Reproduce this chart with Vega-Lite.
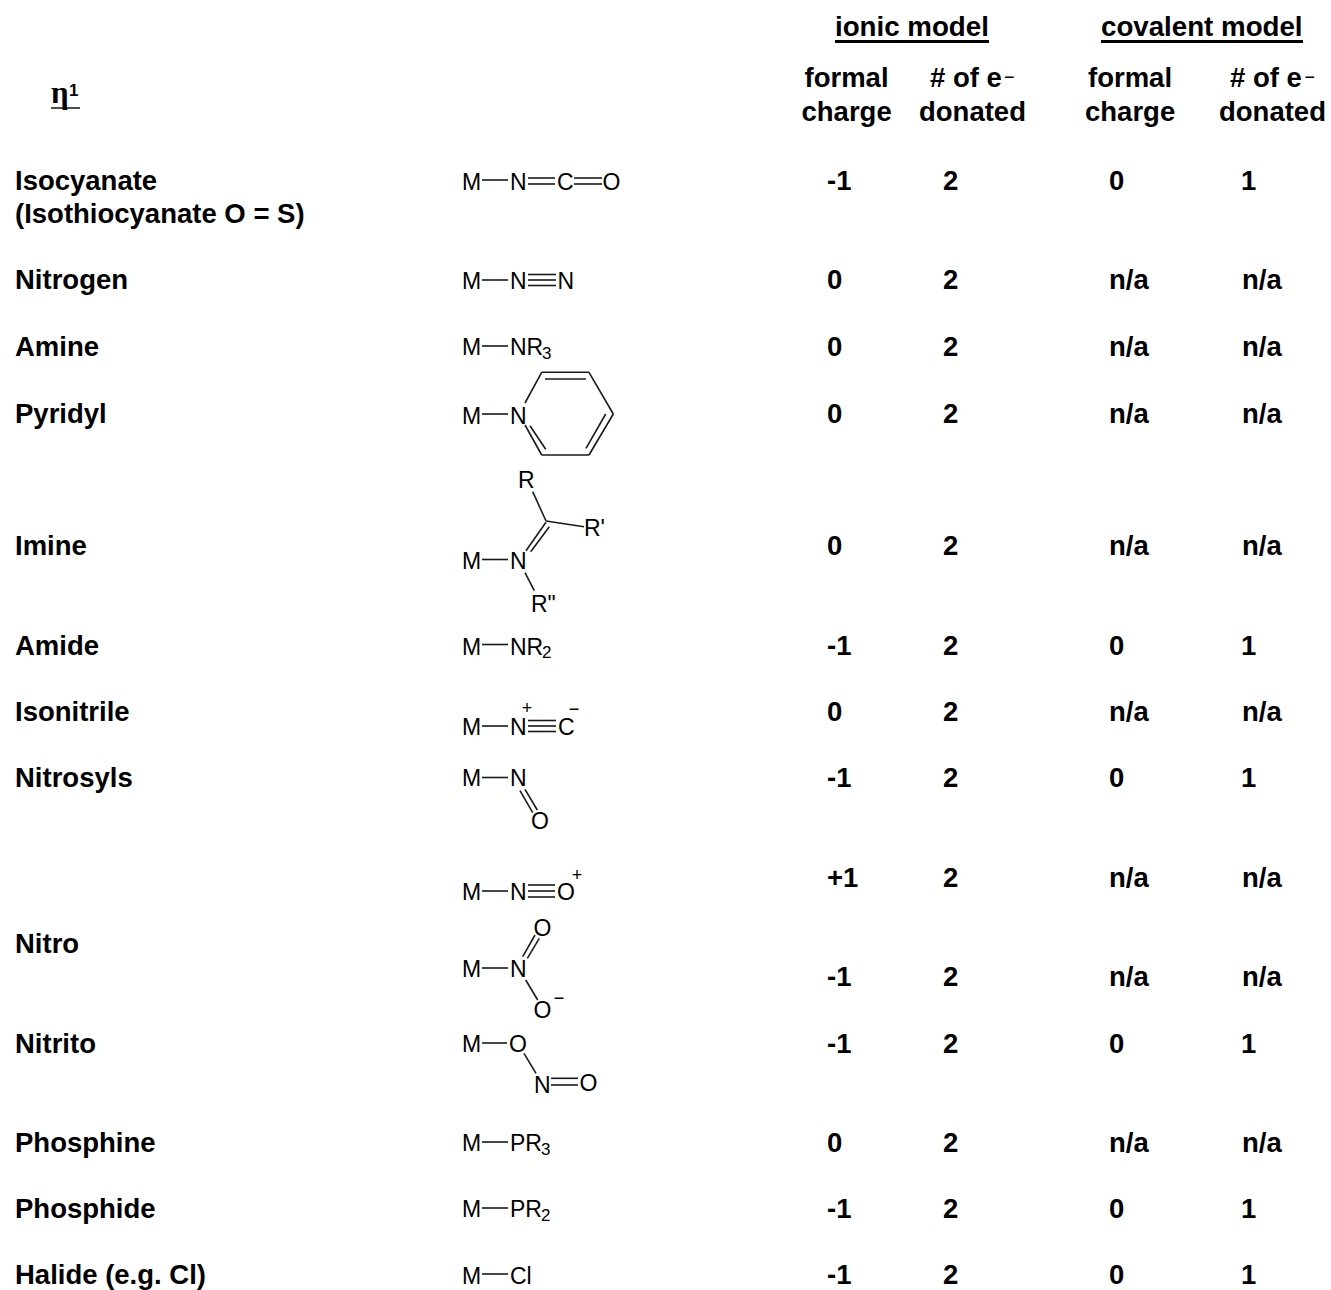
{"$schema":"https://vega.github.io/schema/vega-lite/v6.json","width":1331,"height":1290,"padding":0,"autosize":"none","background":"white","config":{"view":{"stroke":null}},
"datasets":{
"title":[{"x":51,"y":103,"t":"η"}],
"titleSup":[{"x":69,"y":96,"t":"1"}],
"head1":[{"x":835,"y":36,"t":"ionic model"},{"x":1101,"y":36,"t":"covalent model"}],
"cells":[
{"x":15,"y":190,"t":"Isocyanate"},{"x":15,"y":223,"t":"(Isothiocyanate O = S)"},
{"x":15,"y":289,"t":"Nitrogen"},{"x":15,"y":356,"t":"Amine"},{"x":15,"y":423,"t":"Pyridyl"},{"x":15,"y":555,"t":"Imine"},{"x":15,"y":655,"t":"Amide"},{"x":15,"y":721,"t":"Isonitrile"},{"x":15,"y":787,"t":"Nitrosyls"},{"x":15,"y":953,"t":"Nitro"},{"x":15,"y":1053,"t":"Nitrito"},{"x":15,"y":1152,"t":"Phosphine"},{"x":15,"y":1218,"t":"Phosphide"},{"x":15,"y":1284,"t":"Halide (e.g. Cl)"},
{"x":804.5,"y":87,"t":"formal"},{"x":801.5,"y":121,"t":"charge"},{"x":930,"y":87,"t":"# of e"},{"x":919,"y":121,"t":"donated"},{"x":1088,"y":87,"t":"formal"},{"x":1085,"y":121,"t":"charge"},{"x":1230,"y":87,"t":"# of e"},{"x":1219,"y":121,"t":"donated"},
{"x":827,"y":190,"t":"-1"},{"x":943,"y":190,"t":"2"},{"x":1109,"y":190,"t":"0"},{"x":1241,"y":190,"t":"1"},
{"x":827,"y":289,"t":"0"},{"x":943,"y":289,"t":"2"},{"x":1109,"y":289,"t":"n/a"},{"x":1242,"y":289,"t":"n/a"},
{"x":827,"y":356,"t":"0"},{"x":943,"y":356,"t":"2"},{"x":1109,"y":356,"t":"n/a"},{"x":1242,"y":356,"t":"n/a"},
{"x":827,"y":423,"t":"0"},{"x":943,"y":423,"t":"2"},{"x":1109,"y":423,"t":"n/a"},{"x":1242,"y":423,"t":"n/a"},
{"x":827,"y":555,"t":"0"},{"x":943,"y":555,"t":"2"},{"x":1109,"y":555,"t":"n/a"},{"x":1242,"y":555,"t":"n/a"},
{"x":827,"y":655,"t":"-1"},{"x":943,"y":655,"t":"2"},{"x":1109,"y":655,"t":"0"},{"x":1241,"y":655,"t":"1"},
{"x":827,"y":721,"t":"0"},{"x":943,"y":721,"t":"2"},{"x":1109,"y":721,"t":"n/a"},{"x":1242,"y":721,"t":"n/a"},
{"x":827,"y":787,"t":"-1"},{"x":943,"y":787,"t":"2"},{"x":1109,"y":787,"t":"0"},{"x":1241,"y":787,"t":"1"},
{"x":827,"y":887,"t":"+1"},{"x":943,"y":887,"t":"2"},{"x":1109,"y":887,"t":"n/a"},{"x":1242,"y":887,"t":"n/a"},
{"x":827,"y":986,"t":"-1"},{"x":943,"y":986,"t":"2"},{"x":1109,"y":986,"t":"n/a"},{"x":1242,"y":986,"t":"n/a"},
{"x":827,"y":1053,"t":"-1"},{"x":943,"y":1053,"t":"2"},{"x":1109,"y":1053,"t":"0"},{"x":1241,"y":1053,"t":"1"},
{"x":827,"y":1152,"t":"0"},{"x":943,"y":1152,"t":"2"},{"x":1109,"y":1152,"t":"n/a"},{"x":1242,"y":1152,"t":"n/a"},
{"x":827,"y":1218,"t":"-1"},{"x":943,"y":1218,"t":"2"},{"x":1109,"y":1218,"t":"0"},{"x":1241,"y":1218,"t":"1"},
{"x":827,"y":1284,"t":"-1"},{"x":943,"y":1284,"t":"2"},{"x":1109,"y":1284,"t":"0"},{"x":1241,"y":1284,"t":"1"}
],
"eMinus":[{"x":1004,"y":83,"t":"−"},{"x":1304.5,"y":83,"t":"−"}],
"atoms":[
{"x":462,"y":190,"t":"M"},{"x":510,"y":190,"t":"N"},{"x":557,"y":190,"t":"C"},{"x":602.5,"y":190,"t":"O"},
{"x":462,"y":289,"t":"M"},{"x":510,"y":289,"t":"N"},{"x":557.5,"y":289,"t":"N"},
{"x":462,"y":355,"t":"M"},{"x":510,"y":355,"t":"NR"},
{"x":462,"y":424,"t":"M"},{"x":510,"y":424,"t":"N"},
{"x":518,"y":488,"t":"R"},{"x":584,"y":536,"t":"R'"},{"x":462,"y":569,"t":"M"},{"x":510,"y":569,"t":"N"},{"x":531,"y":612,"t":"R\""},
{"x":462,"y":655,"t":"M"},{"x":510,"y":655,"t":"NR"},
{"x":462,"y":735,"t":"M"},{"x":510,"y":735,"t":"N"},{"x":558,"y":735,"t":"C"},
{"x":462,"y":786,"t":"M"},{"x":510,"y":786,"t":"N"},{"x":531,"y":829,"t":"O"},
{"x":462,"y":900,"t":"M"},{"x":510,"y":900,"t":"N"},{"x":557,"y":900,"t":"O"},
{"x":462,"y":977,"t":"M"},{"x":510,"y":977,"t":"N"},{"x":533.5,"y":936,"t":"O"},{"x":533.5,"y":1018,"t":"O"},
{"x":462,"y":1052,"t":"M"},{"x":509,"y":1052,"t":"O"},{"x":534,"y":1093,"t":"N"},{"x":579.5,"y":1091,"t":"O"},
{"x":462,"y":1151,"t":"M"},{"x":510,"y":1151,"t":"PR"},
{"x":462,"y":1217,"t":"M"},{"x":510,"y":1217,"t":"PR"},
{"x":462,"y":1284,"t":"M"},{"x":510,"y":1284,"t":"Cl"}
],
"subs":[{"x":542,"y":359,"t":"3"},{"x":542,"y":658,"t":"2"},{"x":541,"y":1155,"t":"3"},{"x":541,"y":1221,"t":"2"}],
"charges":[{"x":527,"y":714,"t":"+"},{"x":574,"y":715,"t":"−"},{"x":577,"y":881,"t":"+"},{"x":559,"y":1004,"t":"−"}],
"bonds":[
{"x":482,"y":180,"x2":508,"y2":180},{"x":528,"y":178,"x2":555,"y2":178},{"x":528,"y":184,"x2":555,"y2":184},{"x":574,"y":178,"x2":602,"y2":178},{"x":574,"y":184,"x2":602,"y2":184},
{"x":482,"y":280,"x2":508,"y2":280},{"x":528,"y":274.5,"x2":556,"y2":274.5},{"x":528,"y":280,"x2":556,"y2":280},{"x":528,"y":285.5,"x2":556,"y2":285.5},
{"x":482,"y":346,"x2":508,"y2":346},
{"x":482,"y":414,"x2":508,"y2":414},
{"x":525,"y":403,"x2":541.7,"y2":372.3},{"x":541.7,"y":372.3,"x2":589,"y2":372.3},{"x":589,"y":372.3,"x2":613.3,"y2":414},{"x":613.3,"y":414,"x2":589,"y2":455},{"x":589,"y":455,"x2":541.7,"y2":455},{"x":541.7,"y":455,"x2":525,"y2":425},{"x":545,"y":379,"x2":586,"y2":379},{"x":605.7,"y":414,"x2":586,"y2":448.3},{"x":530,"y":425.7,"x2":545.7,"y2":449.3},
{"x":532.7,"y":491.7,"x2":546,"y2":521},{"x":546,"y":521,"x2":584,"y2":526.7},{"x":526,"y":550.7,"x2":546,"y2":522.3},{"x":530.7,"y":551.7,"x2":549.3,"y2":526.7},{"x":482,"y":559.5,"x2":508,"y2":559.5},{"x":525,"y":572.7,"x2":534.3,"y2":590.7},
{"x":482,"y":644.5,"x2":508,"y2":644.5},
{"x":482,"y":726,"x2":508,"y2":726},{"x":528,"y":720.5,"x2":556,"y2":720.5},{"x":528,"y":726,"x2":556,"y2":726},{"x":528,"y":731.5,"x2":556,"y2":731.5},
{"x":482,"y":777.5,"x2":508,"y2":777.5},{"x":520,"y":790.7,"x2":532.7,"y2":812.7},{"x":525,"y":789.3,"x2":537.3,"y2":810},
{"x":482,"y":891,"x2":508,"y2":891},{"x":528,"y":885,"x2":555,"y2":885},{"x":528,"y":891,"x2":555,"y2":891},{"x":528,"y":897,"x2":555,"y2":897},
{"x":482,"y":968,"x2":508,"y2":968},{"x":522.7,"y":956.7,"x2":535,"y2":935},{"x":527.3,"y":958.3,"x2":539.3,"y2":938.3},{"x":525.7,"y":980,"x2":537.7,"y2":1000},
{"x":482,"y":1043,"x2":507,"y2":1043},{"x":524,"y":1053.3,"x2":536,"y2":1073.3},{"x":551,"y":1078.3,"x2":578,"y2":1078.3},{"x":551,"y":1085,"x2":578,"y2":1085},
{"x":482,"y":1142,"x2":508,"y2":1142},{"x":482,"y":1208,"x2":508,"y2":1208},{"x":482,"y":1274,"x2":508,"y2":1274}
],
"underlineThin":[{"x":51,"y":108,"x2":80,"y2":108}],
"underlineThick":[{"x":835,"y":41.5,"x2":989,"y2":41.5},{"x":1101,"y":41.5,"x2":1303,"y2":41.5}]
},
"encoding":{
"x":{"field":"x","type":"quantitative","scale":{"domain":[0,1331],"nice":false,"zero":false},"axis":null},
"y":{"field":"y","type":"quantitative","scale":{"domain":[0,1290],"nice":false,"zero":false,"reverse":true},"axis":null}
},
"layer":[
{"data":{"name":"bonds"},"mark":{"type":"rule","stroke":"#1a1a1a","strokeWidth":1.6},"encoding":{"x2":{"field":"x2"},"y2":{"field":"y2"}}},
{"data":{"name":"underlineThin"},"mark":{"type":"rule","stroke":"#111","strokeWidth":1.5},"encoding":{"x2":{"field":"x2"},"y2":{"field":"y2"}}},
{"data":{"name":"underlineThick"},"mark":{"type":"rule","stroke":"#000","strokeWidth":3},"encoding":{"x2":{"field":"x2"},"y2":{"field":"y2"}}},
{"data":{"name":"title"},"mark":{"type":"text","align":"left","baseline":"alphabetic","font":"Liberation Serif","fontWeight":"bold","fontSize":31,"color":"#000"},"encoding":{"text":{"field":"t"}}},
{"data":{"name":"titleSup"},"mark":{"type":"text","align":"left","baseline":"alphabetic","font":"Liberation Sans","fontWeight":"bold","fontSize":17,"color":"#000"},"encoding":{"text":{"field":"t"}}},
{"data":{"name":"head1"},"mark":{"type":"text","align":"left","baseline":"alphabetic","font":"Liberation Sans","fontWeight":"bold","fontSize":27.7,"color":"#000"},"encoding":{"text":{"field":"t"}}},
{"data":{"name":"cells"},"mark":{"type":"text","align":"left","baseline":"alphabetic","font":"Liberation Sans","fontWeight":"bold","fontSize":27.5,"color":"#000"},"encoding":{"text":{"field":"t"}}},
{"data":{"name":"eMinus"},"mark":{"type":"text","align":"left","baseline":"alphabetic","font":"Liberation Sans","fontSize":18,"color":"#000"},"encoding":{"text":{"field":"t"}}},
{"data":{"name":"atoms"},"mark":{"type":"text","align":"left","baseline":"alphabetic","font":"Liberation Sans","fontSize":23,"color":"#000"},"encoding":{"text":{"field":"t"}}},
{"data":{"name":"subs"},"mark":{"type":"text","align":"left","baseline":"alphabetic","font":"Liberation Sans","fontSize":17,"color":"#000"},"encoding":{"text":{"field":"t"}}},
{"data":{"name":"charges"},"mark":{"type":"text","align":"center","baseline":"alphabetic","font":"Liberation Sans","fontSize":18,"color":"#000"},"encoding":{"text":{"field":"t"}}}
]}
